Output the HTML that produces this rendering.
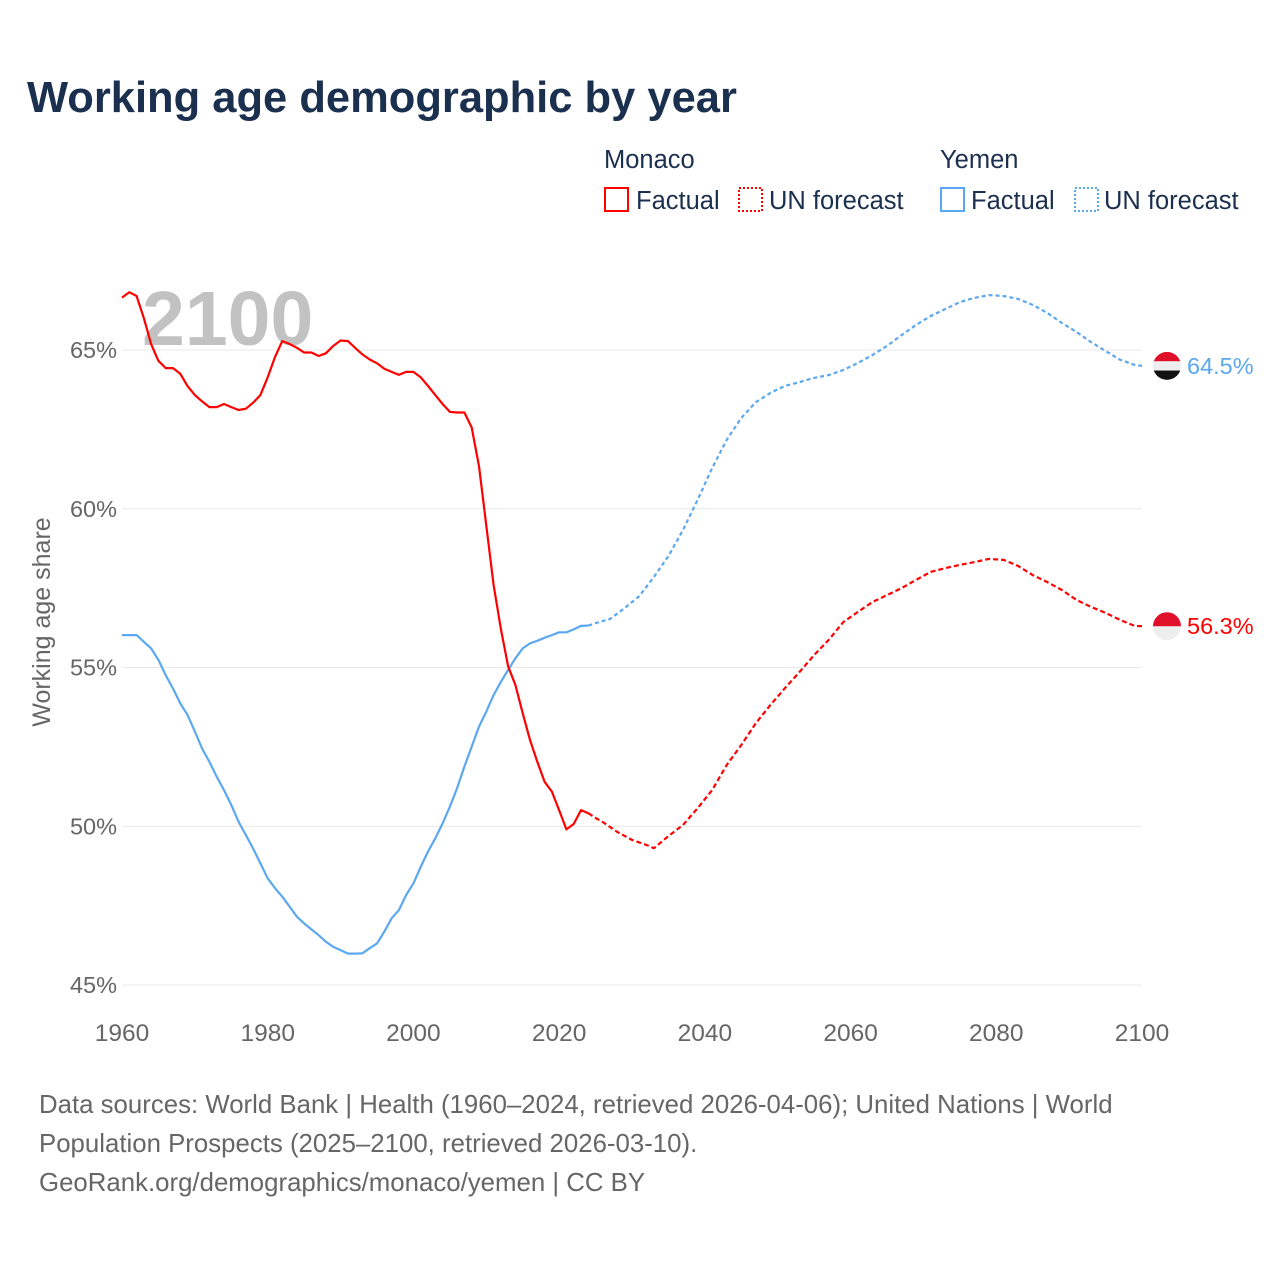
<!DOCTYPE html>
<html><head><meta charset="utf-8"><style>
body{margin:0;background:#fff;font-family:"Liberation Sans",sans-serif}
svg text{font-family:"Liberation Sans",sans-serif}
</style></head><body>
<svg id="c" width="1280" height="1280" xmlns="http://www.w3.org/2000/svg">
<text x="27" y="112" font-size="43.5" font-weight="bold" fill="#1b2f4e">Working age demographic by year</text>
<g font-size="25.5" fill="#1b2f4e">
<text x="604" y="168">Monaco</text>
<rect x="605" y="188" width="23" height="23" fill="none" stroke="#f00" stroke-width="2"/>
<text x="636" y="209">Factual</text>
<rect x="739" y="188" width="23" height="23" fill="none" stroke="#f00" stroke-width="2" stroke-dasharray="2,2"/>
<text x="769" y="209">UN forecast</text>
<text x="940" y="168">Yemen</text>
<rect x="941" y="188" width="23" height="23" fill="none" stroke="#5ba8f0" stroke-width="2"/>
<text x="971" y="209">Factual</text>
<rect x="1075" y="188" width="23" height="23" fill="none" stroke="#5ba8f0" stroke-width="2" stroke-dasharray="2,2"/>
<text x="1104" y="209">UN forecast</text>
</g>
<text x="142" y="345" font-size="77" font-weight="bold" fill="#c2c2c2">2100</text>
<text transform="translate(50,622) rotate(-90)" text-anchor="middle" font-size="25" fill="#666">Working age share</text>
<g id="grid"></g><g id="series"></g>
<g font-size="25.8" fill="#666">
<text x="39" y="1113">Data sources: World Bank | Health (1960–2024, retrieved 2026-04-06); United Nations | World</text>
<text x="39" y="1152">Population Prospects (2025–2100, retrieved 2026-03-10).</text>
<text x="39" y="1191">GeoRank.org/demographics/monaco/yemen | CC BY</text>
</g>
</svg>
<script>
const yTicks=[45,50,55,60,65];
const xTicks=[1960,1980,2000,2020,2040,2060,2080,2100];
const monacoFactual=[66.65,66.82,66.70,66.00,65.19,64.66,64.43,64.43,64.25,63.86,63.58,63.38,63.20,63.20,63.30,63.20,63.11,63.15,63.34,63.58,64.14,64.78,65.28,65.19,65.07,64.92,64.92,64.81,64.90,65.13,65.30,65.28,65.07,64.86,64.70,64.58,64.41,64.31,64.22,64.31,64.31,64.14,63.87,63.58,63.30,63.05,63.03,63.03,62.56,61.34,59.47,57.60,56.21,55.04,54.45,53.56,52.72,52.03,51.40,51.09,50.51,49.90,50.07,50.51,50.41];
const monacoForecastYears=[2024,2025,2026,2028,2030,2032,2033,2035,2037,2039,2041,2043,2045,2047,2049,2051,2053,2055,2057,2059,2061,2063,2065,2067,2069,2071,2073,2075,2077,2079,2081,2083,2085,2087,2089,2091,2093,2095,2097,2099,2100];
const monacoForecast=[50.41,50.26,50.13,49.82,49.57,49.41,49.31,49.69,50.04,50.57,51.14,51.93,52.56,53.25,53.82,54.35,54.86,55.39,55.87,56.43,56.75,57.06,57.28,57.50,57.76,58.01,58.13,58.23,58.32,58.42,58.39,58.20,57.91,57.69,57.44,57.13,56.91,56.72,56.50,56.31,56.3];
const yemenFactual=[56.02,56.02,56.02,55.81,55.60,55.24,54.76,54.34,53.87,53.50,52.98,52.45,52.03,51.56,51.14,50.67,50.14,49.72,49.30,48.83,48.36,48.05,47.78,47.47,47.15,46.94,46.75,46.57,46.36,46.20,46.10,45.99,45.99,46.00,46.16,46.31,46.68,47.10,47.36,47.83,48.20,48.72,49.20,49.62,50.09,50.62,51.20,51.88,52.51,53.14,53.61,54.13,54.55,54.92,55.29,55.60,55.76,55.84,55.94,56.02,56.11,56.11,56.20,56.31,56.32];
const yemenForecastYears=[2024,2025,2027,2029,2031,2033,2035,2037,2039,2041,2043,2045,2047,2049,2051,2053,2055,2057,2059,2061,2063,2065,2067,2069,2071,2073,2075,2077,2079,2081,2083,2085,2087,2089,2091,2093,2095,2097,2099,2100];
const yemenForecast=[56.32,56.40,56.53,56.87,57.25,57.85,58.51,59.33,60.28,61.28,62.17,62.86,63.36,63.65,63.87,63.99,64.12,64.21,64.37,64.59,64.84,65.13,65.47,65.79,66.07,66.29,66.51,66.64,66.73,66.70,66.61,66.42,66.17,65.85,65.57,65.25,64.97,64.69,64.53,64.5];
const NS='http://www.w3.org/2000/svg';
const xS=y=>122+(y-1960)*(1020/140);
const yS=v=>350+(65-v)*31.75;
const grid=document.getElementById('grid'),ser=document.getElementById('series');
function mk(t,a,p){const e=document.createElementNS(NS,t);for(const k in a)e.setAttribute(k,a[k]);p.appendChild(e);return e;}
yTicks.forEach(t=>{
 const l=mk('line',{x1:122,x2:1142,y1:yS(t),y2:yS(t),stroke:'#e8e8e8','stroke-width':1},grid);
 
 
 const tx=mk('text',{x:117,y:yS(t)+8,'text-anchor':'end','font-size':23.5,fill:'#666'},grid);
 tx.textContent=t+'%';
 
 
});
xTicks.forEach(t=>{
 const tx=mk('text',{x:xS(t),y:1041,'text-anchor':'middle','font-size':24.5,fill:'#666'},grid);
 tx.textContent=t;
 
 
});
function pts(ys,vs){return vs.map((v,i)=>xS(ys[i]).toFixed(1)+','+yS(v).toFixed(1)).join(' ');}
const fy=monacoFactual.map((_,i)=>1960+i);
function line(p,c,dash,name){const e=mk('polyline',{points:p,fill:'none',stroke:c,'stroke-width':2.2,'stroke-linejoin':'round'},ser);if(dash)e.setAttribute('stroke-dasharray',dash);
 
 }
line(pts(fy,yemenFactual),'#5ba8f0',null,'yemen-factual-line');
line(pts(yemenForecastYears,yemenForecast),'#5ba8f0','4,3','yemen-forecast-line');
line(pts(fy,monacoFactual),'#f00',null,'monaco-factual-line');
line(pts(monacoForecastYears,monacoForecast),'#f00','5,3','monaco-forecast-line');
function flag(v,cols,name,label,col){
 const cy=yS(v),cx=1167,g=mk('g',{},ser);
 
 
 const cid='cl'+name;const cp=mk('clipPath',{id:cid},g);mk('circle',{cx:cx,cy:cy,r:14},cp);
 const h=28/cols.length;cols.forEach((c,i)=>mk('rect',{x:cx-14,y:cy-14+i*h,width:28,height:h+0.5,fill:c,'clip-path':'url(#'+cid+')'},g));
 const t=mk('text',{x:1187,y:cy+8,'font-size':23.5,fill:col},ser);t.textContent=label;
 
 
}
flag(yemenForecast[yemenForecast.length-1],['#e0102a','#eeeeee','#111111'],'yemen-flag','64.5%','#5ba8f0');
flag(monacoForecast[monacoForecast.length-1],['#e0102a','#eeeeee'],'monaco-flag','56.3%','#f00');
</script>
</body></html>
